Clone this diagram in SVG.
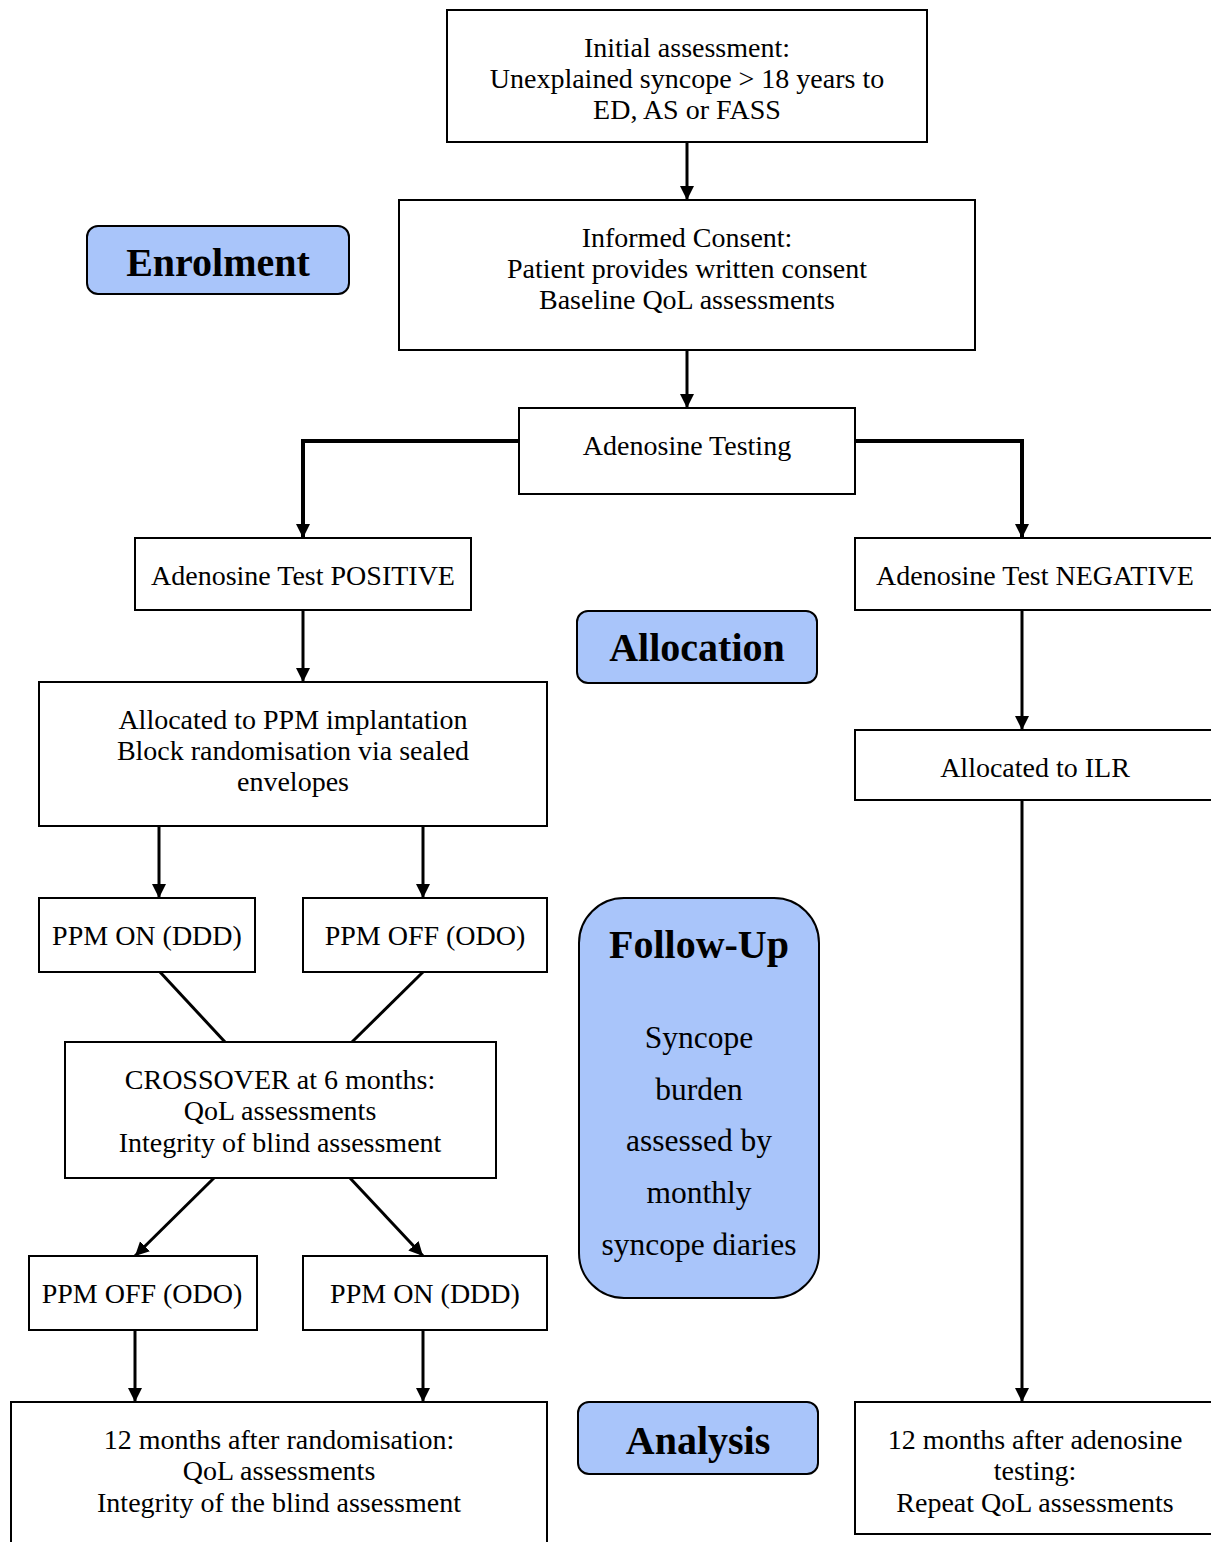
<svg xmlns="http://www.w3.org/2000/svg" width="1211" height="1542" viewBox="0 0 1211 1542">
<defs>
<marker id="ah" markerWidth="14" markerHeight="16" refX="14" refY="7" orient="auto" markerUnits="userSpaceOnUse">
<path d="M0,0 L14,7 L0,14 Z" fill="#000"/>
</marker>
<style>
.box{fill:#fff;stroke:#000;stroke-width:2}
.lab{fill:#a9c5fa;stroke:#000;stroke-width:2}
.t{font-family:"Liberation Serif","DejaVu Serif",serif;font-size:28px;fill:#000;text-anchor:middle;dominant-baseline:central}
.f{font-size:31.5px}
.b{font-family:"Liberation Serif","DejaVu Serif",serif;font-size:40px;font-weight:bold;fill:#000;text-anchor:middle;dominant-baseline:central}
.c{fill:none;stroke:#000;stroke-width:3}
.a{fill:none;stroke:#000;stroke-width:3;marker-end:url(#ah)}
.h{stroke-width:4}
</style>
</defs>
<rect width="1211" height="1542" fill="#fff"/>
<g id="connectors">
<path class="a" d="M687,142 V200"/>
<path class="a" d="M687,350 V408"/>
<path class="a h" d="M519,441 H303 V538"/>
<path class="a h" d="M855,441 H1022 V538"/>
<path class="a" d="M303,610 V682"/>
<path class="a" d="M1022,610 V730"/>
<path class="a" d="M159,826 V898"/>
<path class="a" d="M423,826 V898"/>
<path class="a" d="M1022,800 V1402"/>
<path class="c" d="M160,972 L225,1042"/>
<path class="c" d="M423,972 L352,1042"/>
<path class="a" d="M214,1178 L135,1256"/>
<path class="a" d="M350,1178 L423,1256"/>
<path class="a" d="M135,1330 V1402"/>
<path class="a" d="M423,1330 V1402"/>
</g>
<g id="initial"><rect class="box" x="447" y="10" width="480" height="132"/>
<text class="t" x="687" y="47">Initial assessment:</text>
<text class="t" x="687" y="78">Unexplained syncope &gt; 18 years to</text>
<text class="t" x="687" y="109">ED, AS or FASS</text></g>
<g id="consent"><rect class="box" x="399" y="200" width="576" height="150"/>
<text class="t" x="687" y="237">Informed Consent:</text>
<text class="t" x="687" y="268">Patient provides written consent</text>
<text class="t" x="687" y="299">Baseline QoL assessments</text></g>
<g id="enrolment"><rect class="lab" x="87" y="226" width="262" height="68" rx="11"/>
<text class="b" x="218" y="262">Enrolment</text></g>
<g id="adenosine"><rect class="box" x="519" y="408" width="336" height="86"/>
<text class="t" x="687" y="445">Adenosine Testing</text></g>
<g id="positive"><rect class="box" x="135" y="538" width="336" height="72"/>
<text class="t" x="303" y="575">Adenosine Test POSITIVE</text></g>
<g id="negative"><rect class="box" x="855" y="538" width="360" height="72"/>
<text class="t" x="1035" y="575">Adenosine Test NEGATIVE</text></g>
<g id="allocation"><rect class="lab" x="577" y="611" width="240" height="72" rx="11"/>
<text class="b" x="697" y="647">Allocation</text></g>
<g id="ppm-alloc"><rect class="box" x="39" y="682" width="508" height="144"/>
<text class="t" x="293" y="719">Allocated to PPM implantation</text>
<text class="t" x="293" y="750">Block randomisation via sealed</text>
<text class="t" x="293" y="781">envelopes</text></g>
<g id="ilr"><rect class="box" x="855" y="730" width="360" height="70"/>
<text class="t" x="1035" y="767">Allocated to ILR</text></g>
<g id="ppm-on-1"><rect class="box" x="39" y="898" width="216" height="74"/>
<text class="t" x="147" y="935">PPM ON (DDD)</text></g>
<g id="ppm-off-1"><rect class="box" x="303" y="898" width="244" height="74"/>
<text class="t" x="425" y="935">PPM OFF (ODO)</text></g>
<g id="followup"><rect class="lab" x="579" y="898" width="240" height="400" rx="45"/>
<text class="b" x="699" y="944">Follow-Up</text>
<text class="t f" x="699" y="1037">Syncope</text>
<text class="t f" x="699" y="1089">burden</text>
<text class="t f" x="699" y="1140">assessed by</text>
<text class="t f" x="699" y="1192">monthly</text>
<text class="t f" x="699" y="1244">syncope diaries</text></g>
<g id="crossover"><rect class="box" x="65" y="1042" width="431" height="136"/>
<text class="t" x="280" y="1079">CROSSOVER at 6 months:</text>
<text class="t" x="280" y="1110">QoL assessments</text>
<text class="t" x="280" y="1142">Integrity of blind assessment</text></g>
<g id="ppm-off-2"><rect class="box" x="29" y="1256" width="228" height="74"/>
<text class="t" x="142" y="1293">PPM OFF (ODO)</text></g>
<g id="ppm-on-2"><rect class="box" x="303" y="1256" width="244" height="74"/>
<text class="t" x="425" y="1293">PPM ON (DDD)</text></g>
<g id="final-ppm"><rect class="box" x="11" y="1402" width="536" height="150"/>
<text class="t" x="279" y="1439">12 months after randomisation:</text>
<text class="t" x="279" y="1470">QoL assessments</text>
<text class="t" x="279" y="1502">Integrity of the blind assessment</text></g>
<g id="analysis"><rect class="lab" x="578" y="1402" width="240" height="72" rx="11"/>
<text class="b" x="698" y="1440">Analysis</text></g>
<g id="final-ilr"><rect class="box" x="855" y="1402" width="360" height="132"/>
<text class="t" x="1035" y="1439">12 months after adenosine</text>
<text class="t" x="1035" y="1470">testing:</text>
<text class="t" x="1035" y="1502">Repeat QoL assessments</text></g>
</svg>
